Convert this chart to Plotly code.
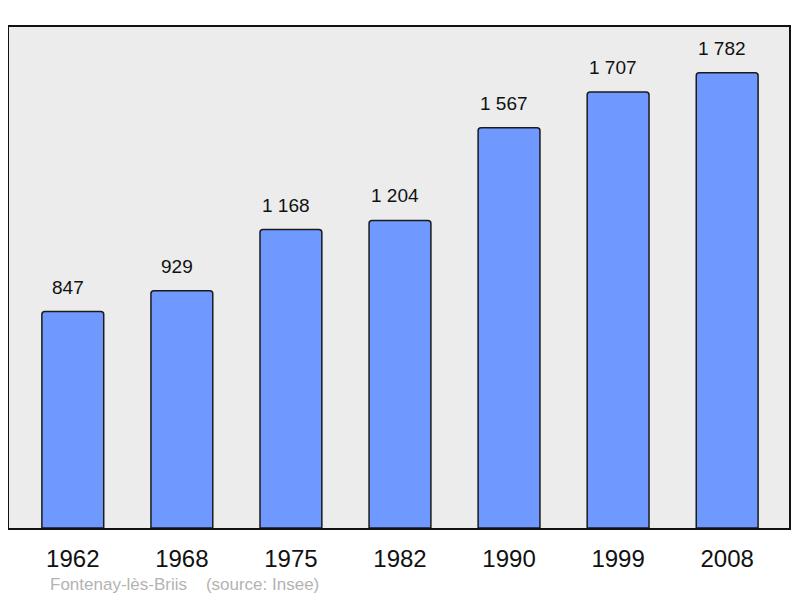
import plotly.graph_objects as go

years = ["1962", "1968", "1975", "1982", "1990", "1999", "2008"]
population = [847, 929, 1168, 1204, 1567, 1707, 1782]
labels = ["847", "929", "1 168", "1 204", "1 567", "1 707", "1 782"]
footer = "Fontenay-lès-Briis    (source: Insee)"

xpos = list(range(len(years)))

fig = go.Figure()
fig.add_trace(go.Bar(
    x=xpos, y=population, width=0.567,
    marker=dict(color="#7099ff", line=dict(color="#1a1a1a", width=1.5), cornerradius=3),
    hoverinfo="skip",
))

for xi, v, t in zip(xpos, population, labels):
    fig.add_annotation(x=xi, y=v, text=t, showarrow=False, yanchor="bottom",
                       yshift=12, xshift=-5,
                       font=dict(family="Liberation Sans, Arial, sans-serif", size=19, color="#111"))

fig.add_annotation(xref="paper", yref="paper", x=0.05, y=0, yanchor="top", xanchor="left",
                   yshift=-45, text=footer.replace("    ", "&nbsp;&nbsp;&nbsp;&nbsp;"), showarrow=False,
                   font=dict(family="Liberation Sans, Arial, sans-serif", size=17, color="#b3b3b3"))

fig.update_layout(
    width=784, height=590,
    margin=dict(l=1, r=1, t=19, b=70),
    paper_bgcolor="white", plot_bgcolor="#ececec",
    showlegend=False,
    font=dict(family="Liberation Sans, Arial, sans-serif"),
    xaxis=dict(range=[-0.585, 6.567], tickvals=xpos, ticktext=years, showgrid=False,
               zeroline=False, showline=True, mirror=True, linecolor="#111", linewidth=2,
               ticks="", ticklabelstandoff=8,
               tickfont=dict(size=24, color="#111")),
    yaxis=dict(range=[0, 1961], showgrid=False, zeroline=False, showticklabels=False,
               showline=True, mirror=True, linecolor="#111", linewidth=2, ticks=""),
)

fig.write_html("out.html")
